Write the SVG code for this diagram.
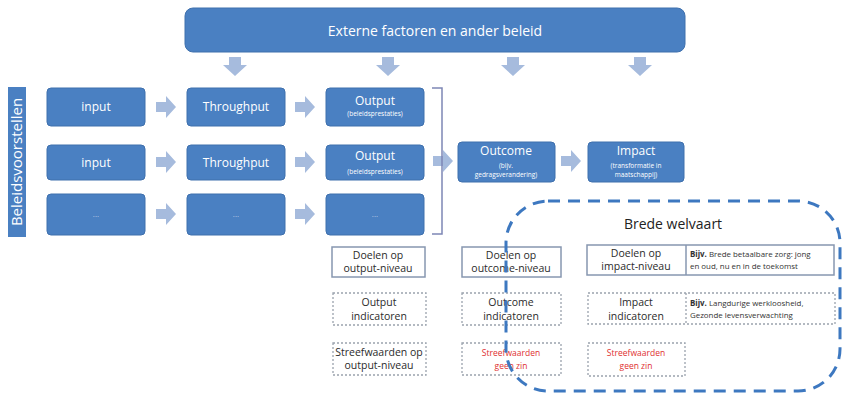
<svg xmlns="http://www.w3.org/2000/svg" width="847" height="395" viewBox="0 0 847 395">
<defs>
<style>
.bx{fill:#4a80c2;stroke:#3f70ad;stroke-width:1}
.t{font-family:"Open Sans","Liberation Sans",sans-serif;fill:#ffffff;text-anchor:middle}
.ts{font-family:"Open Sans","Liberation Sans",sans-serif;fill:#ffffff;text-anchor:middle;font-size:6.5px}
.d{font-family:"Open Sans","Liberation Sans",sans-serif;fill:#2b2b2b;text-anchor:middle;font-size:10.5px}
.red{fill:#e03030;font-size:8.5px}
.sm{font-family:"Open Sans","Liberation Sans",sans-serif;fill:#333333;font-size:7.9px}
.sol{fill:#ffffff;stroke:#8797b0;stroke-width:1.5}
.dot{fill:#ffffff;stroke:#9aa2ad;stroke-width:1.3;stroke-dasharray:2 2}
.ar{fill:#a6bbdd}
</style>
<path id="ra" d="M0,-5 H10 V-11 L20,0 L10,11 V5 H0 Z"/>
<path id="da" d="M-6,0 H6 V8 H12 L0,19 L-12,8 H-6 Z"/>
</defs>

<g id="externe">
<rect class="bx" x="185" y="8" width="500" height="44" rx="8"/>
<text class="t" x="435" y="36" font-size="14">Externe factoren en ander beleid</text>
</g>

<g id="label">
<rect x="8" y="87" width="18" height="150" fill="#4a80c2"/>
<text class="t" font-size="15" transform="translate(22,162) rotate(-90)">Beleidsvoorstellen</text>
</g>

<g id="input1"><rect class="bx" x="47" y="88" width="98" height="38" rx="4"/><text class="t" x="96" y="111" font-size="12">input</text></g>
<g id="through1"><rect class="bx" x="187" y="88" width="98" height="38" rx="4"/><text class="t" x="236" y="111" font-size="12">Throughput</text></g>
<g id="output1"><rect class="bx" x="326" y="88" width="98" height="38" rx="4"/><text class="t" x="375" y="105" font-size="12">Output</text><text class="ts" x="375" y="116">(beleidsprestaties)</text></g>

<g id="input2"><rect class="bx" x="47" y="145" width="98" height="35" rx="4"/><text class="t" x="96" y="167" font-size="12">input</text></g>
<g id="through2"><rect class="bx" x="187" y="145" width="98" height="35" rx="4"/><text class="t" x="236" y="167" font-size="12">Throughput</text></g>
<g id="output2"><rect class="bx" x="326" y="145" width="98" height="35" rx="4"/><text class="t" x="375" y="160" font-size="12">Output</text><text class="ts" x="375" y="174">(beleidsprestaties)</text></g>

<g id="input3"><rect class="bx" x="47" y="194" width="98" height="41" rx="4"/><text class="t" x="96" y="217" font-size="8" fill-opacity="0.6">...</text></g>
<g id="through3"><rect class="bx" x="187" y="194" width="98" height="41" rx="4"/><text class="t" x="236" y="217" font-size="8" fill-opacity="0.6">...</text></g>
<g id="output3"><rect class="bx" x="326" y="194" width="98" height="41" rx="4"/><text class="t" x="375" y="217" font-size="8" fill-opacity="0.6">...</text></g>

<g id="outcome"><rect class="bx" x="458" y="142" width="97" height="40" rx="4"/><text class="t" x="506" y="155" font-size="12">Outcome</text><text class="ts" x="506" y="168">(bijv.</text><text class="ts" x="506" y="177">gedragsverandering)</text></g>
<g id="impact"><rect class="bx" x="588" y="142" width="96" height="40" rx="4"/><text class="t" x="636" y="155" font-size="12">Impact</text><text class="ts" x="636" y="168">(transformatie in</text><text class="ts" x="636" y="177">maatschappij)</text></g>

<g id="connectors">
<use href="#da" class="ar" x="235" y="57"/>
<use href="#da" class="ar" x="388" y="57"/>
<use href="#da" class="ar" x="513" y="57"/>
<use href="#da" class="ar" x="640" y="57"/>
<use href="#ra" class="ar" x="156" y="107"/>
<use href="#ra" class="ar" x="295" y="107"/>
<use href="#ra" class="ar" x="156" y="162"/>
<use href="#ra" class="ar" x="295" y="162"/>
<use href="#ra" class="ar" x="156" y="214"/>
<use href="#ra" class="ar" x="295" y="214"/>
<use href="#ra" class="ar" x="433" y="161"/>
<use href="#ra" class="ar" x="561" y="161"/>
<path d="M432,88 H442 V234 H432" fill="none" stroke="#7d86b5" stroke-width="1.5"/>
</g>

<g id="doelen-output"><rect class="sol" x="332" y="247" width="93" height="30"/><text class="d" x="378" y="259">Doelen op</text><text class="d" x="378" y="272">output-niveau</text></g>
<g id="output-ind"><rect class="dot" x="333" y="293" width="93" height="32"/><text class="d" x="379" y="306">Output</text><text class="d" x="379" y="320">indicatoren</text></g>
<g id="streef-output"><rect class="dot" x="333" y="343" width="93" height="32"/><text class="d" x="379" y="356" font-size="8">Streefwaarden op</text><text class="d" x="379" y="369" font-size="8">output-niveau</text></g>

<g id="doelen-outcome"><rect class="sol" x="462" y="247" width="99" height="30"/><text class="d" x="511" y="259">Doelen op</text><text class="d" x="511" y="272">outcome-niveau</text></g>
<g id="outcome-ind"><rect class="dot" x="462" y="293" width="99" height="32"/><text class="d" x="511" y="306">Outcome</text><text class="d" x="511" y="320">indicatoren</text></g>
<g id="streef-outcome"><rect class="dot" x="462" y="343" width="99" height="32"/><text class="d red" x="511" y="356">Streefwaarden</text><text class="d red" x="511" y="369">geen zin</text></g>

<g id="doelen-impact"><rect class="sol" x="587" y="245" width="247" height="30"/><line x1="686" y1="245" x2="686" y2="275" stroke="#8797b0" stroke-width="1.5"/><text class="d" x="636" y="257">Doelen op</text><text class="d" x="636" y="270">impact-niveau</text>
<text class="sm" x="690" y="257"><tspan font-weight="bold">Bijv.</tspan> Brede betaalbare zorg: jong</text><text class="sm" x="690" y="269">en oud, nu en in de toekomst</text></g>
<g id="impact-ind"><rect class="dot" x="588" y="293" width="247" height="31"/><line x1="686" y1="293" x2="686" y2="324" stroke="#9aa2ad" stroke-width="1.3" stroke-dasharray="2 2"/><text class="d" x="636" y="306">Impact</text><text class="d" x="636" y="320">indicatoren</text>
<text class="sm" x="690" y="306"><tspan font-weight="bold">Bijv.</tspan> Langdurige werkloosheid,</text><text class="sm" x="690" y="318">Gezonde levensverwachting</text></g>
<g id="streef-impact"><rect class="dot" x="588" y="343" width="97" height="33"/><text class="d red" x="636" y="356">Streefwaarden</text><text class="d red" x="636" y="369">geen zin</text></g>

<g id="brede">
<rect x="506" y="201" width="334" height="190" rx="42" fill="none" stroke="#3d78c0" stroke-width="3" stroke-dasharray="12 8"/>
<text x="673" y="229" font-family="'Open Sans','Liberation Sans',sans-serif" font-size="14" fill="#222" text-anchor="middle">Brede welvaart</text>
</g>
</svg>
